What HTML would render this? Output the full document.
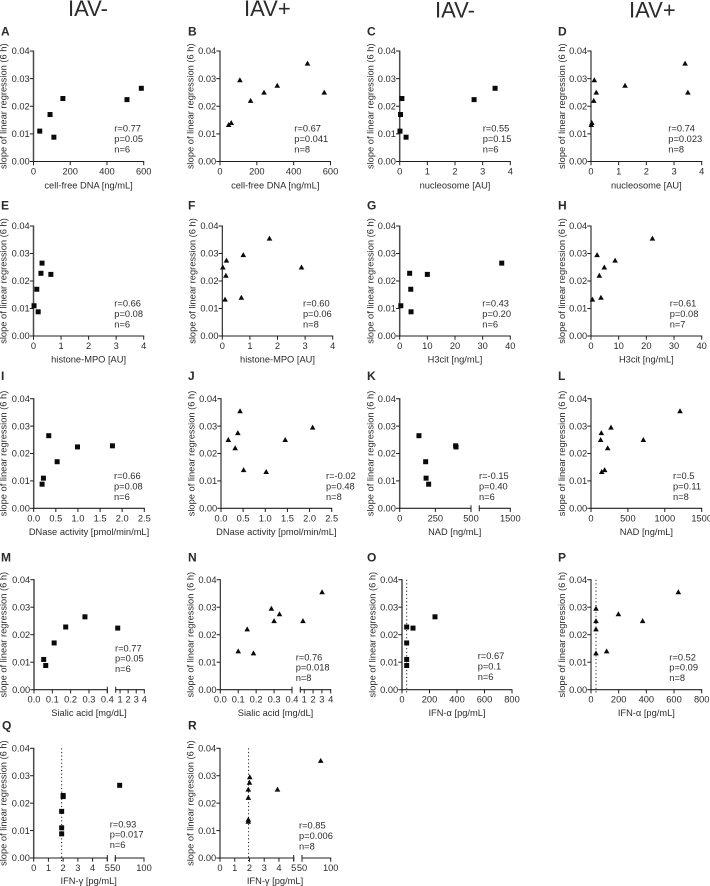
<!DOCTYPE html>
<html lang="en">
<head>
<meta charset="utf-8">
<title>Correlation panels</title>
<style>
html,body{margin:0;padding:0;background:#fff;}
#figure{display:block;position:absolute;left:0;top:0;}
text{font-family:"Liberation Sans",sans-serif;fill:#2b2b2b;}
</style>
</head>
<body>
<svg id="figure" xmlns="http://www.w3.org/2000/svg" width="710" height="886" viewBox="0 0 710 886">
  <rect x="0" y="0" width="710" height="886" fill="#ffffff"/>
  <text x="68" y="16" font-size="22">IAV-</text>
  <text x="244" y="16" font-size="22">IAV+</text>
  <text x="435" y="17.5" font-size="22">IAV-</text>
  <text x="629" y="17.5" font-size="22">IAV+</text>
</svg>
<script>
// ---------- Data ----------
const yTickValues = [0, 0.01, 0.02, 0.03, 0.04];
const yTickLabels = ['0.00', '0.01', '0.02', '0.03', '0.04'];

const xA = [34, 90, 111, 160, 509, 587];
const yA = [0.011, 0.017, 0.0088, 0.0228, 0.0224, 0.0265];
const xB = [47, 61, 108, 166, 239, 311, 475, 566];
const yB = [0.0133, 0.014, 0.0295, 0.022, 0.025, 0.0275, 0.0355, 0.025];
const xC = [0.01, 0.03, 0.08, 0.23, 2.69, 3.45];
const yC = [0.011, 0.017, 0.0228, 0.0088, 0.0224, 0.0265];
const xD = [0.01, 0.03, 0.12, 0.1, 0.19, 1.23, 3.4, 3.5];
const yD = [0.0133, 0.014, 0.0295, 0.022, 0.025, 0.0275, 0.0355, 0.025];
const xE = [0.02, 0.12, 0.17, 0.27, 0.31, 0.63];
const yE = [0.011, 0.017, 0.0088, 0.0228, 0.0265, 0.0224];
const xF = [0.02, 0.1, 0.13, 0.15, 0.69, 0.76, 1.71, 2.87];
const yF = [0.025, 0.0133, 0.022, 0.0275, 0.014, 0.0295, 0.0355, 0.025];
const xG = [0.4, 3.6, 4, 4.1, 10, 36.9];
const yG = [0.011, 0.0228, 0.017, 0.0088, 0.0224, 0.0265];
const xH = [0.5, 2.2, 3, 3.6, 4.8, 8.7, 22.2];
const yH = [0.0133, 0.0295, 0.022, 0.014, 0.025, 0.0275, 0.0355];
const xI = [0.19, 0.22, 0.34, 0.53, 0.99, 1.78];
const yI = [0.0088, 0.011, 0.0265, 0.017, 0.0224, 0.0228];
const xJ = [0.165, 0.32, 0.38, 0.43, 0.51, 1.02, 1.45, 2.07];
const yJ = [0.025, 0.022, 0.0275, 0.0355, 0.014, 0.0133, 0.025, 0.0295];
const xK = [135, 182, 185, 203, 392, 395];
const yK = [0.0265, 0.017, 0.011, 0.0088, 0.0228, 0.0224];
const xL = [131, 140, 145, 185, 226, 271, 709, 1206];
const yL = [0.025, 0.0275, 0.0133, 0.014, 0.022, 0.0295, 0.025, 0.0355];
const xM = [0.053, 0.064, 0.11, 0.173, 0.278, 0.71];
const yM = [0.011, 0.0088, 0.017, 0.0228, 0.0265, 0.0224];
const xN = [0.1, 0.15, 0.185, 0.285, 0.3, 0.33, 0.85, 3.02];
const yN = [0.014, 0.022, 0.0133, 0.0295, 0.025, 0.0275, 0.025, 0.0355];
const xO = [34, 34, 34, 34, 80, 240];
const yO = [0.0088, 0.011, 0.017, 0.0228, 0.0224, 0.0265];
const xP = [36, 36, 36, 36, 113, 198, 373, 631];
const yP = [0.0133, 0.022, 0.025, 0.0295, 0.014, 0.0275, 0.025, 0.0355];
const xQ = [1.9, 1.9, 1.9, 2, 2, 57.6];
const yQ = [0.0088, 0.011, 0.017, 0.0224, 0.0228, 0.0265];
const xR = [1.92, 1.92, 1.92, 1.92, 2, 2.02, 3.9, 82.6];
const yR = [0.0133, 0.014, 0.022, 0.025, 0.0275, 0.0295, 0.025, 0.0355];

const xTicks0to600 = [0, 200, 400, 600];
const xTicks0to4 = [0, 1, 2, 3, 4];
const xTicks0to40 = [0, 10, 20, 30, 40];
const xTicksDNase = [0, 0.5, 1, 1.5, 2, 2.5];
const xTickLabelsDNase = ['0.0', '0.5', '1.0', '1.5', '2.0', '2.5'];
const xTicksNADBroken = [0, 250, 500, 1500];
const xTicksNAD = [0, 500, 1000, 1500];
const xTicksSialic = [0, 0.1, 0.2, 0.3, 0.4, 1, 2, 3, 4];
const xTickLabelsSialic = ['0.0', '0.1', '0.2', '0.3', '0.4', '1', '2', '3', '4'];
const xTicksIFNa = [0, 200, 400, 600, 800];
const xTicksIFNg = [0, 1, 2, 3, 4, 5, 50, 100];

const statsA = ['r=0.77', 'p=0.05', 'n=6'];
const statsB = ['r=0.67', 'p=0.041', 'n=8'];
const statsC = ['r=0.55', 'p=0.15', 'n=6'];
const statsD = ['r=0.74', 'p=0.023', 'n=8'];
const statsE = ['r=0.66', 'p=0.08', 'n=6'];
const statsF = ['r=0.60', 'p=0.06', 'n=8'];
const statsG = ['r=0.43', 'p=0.20', 'n=6'];
const statsH = ['r=0.61', 'p=0.08', 'n=7'];
const statsI = ['r=0.66', 'p=0.08', 'n=6'];
const statsJ = ['r=-0.02', 'p=0.48', 'n=8'];
const statsK = ['r=-0.15', 'p=0.40', 'n=6'];
const statsL = ['r=0.5', 'p=0.11', 'n=8'];
const statsM = ['r=0.77', 'p=0.05', 'n=6'];
const statsN = ['r=0.76', 'p=0.018', 'n=8'];
const statsO = ['r=0.67', 'p=0.1', 'n=6'];
const statsP = ['r=0.52', 'p=0.09', 'n=8'];
const statsQ = ['r=0.93', 'p=0.017', 'n=6'];
const statsR = ['r=0.85', 'p=0.006', 'n=8'];

const cutoffO = 34;
const cutoffP = 36;
const cutoffQ = 1.9;
const cutoffR = 1.94;

// ---------- Layout (geometry of each panel) ----------
const rowFrames = [
  {top: 51, bottom: 161.5, letterY: 35.5, titleY: 188.5, statY: 131.7},
  {top: 226, bottom: 336, letterY: 209.5, titleY: 362.5, statY: 306.7},
  {top: 398.7, bottom: 508.3, letterY: 380, titleY: 535, statY: 479},
  {top: 579.7, bottom: 689.7, letterY: 561.5, titleY: 716, statY: 651.3},
  {top: 748.3, bottom: 858, letterY: 729.3, titleY: 884, statY: 827.3}
];

function panel(id, row, marker, letterX, ylabelX, statX, segs, xs, ys, ticks, tickLabels, title, stats, extra) {
  return Object.assign({id, row, marker, letterX, ylabelX, statX, segs, xs, ys, ticks, tickLabels, title, stats}, extra || {});
}

const panels = [
  panel('A', 0, 's', 1, 6.5, 114.3, [{d: [0, 600], r: [33.5, 143.7]}], xA, yA, xTicks0to600, null, 'cell-free DNA [ng/mL]', statsA),
  panel('B', 0, 't', 188, 193.7, 294.3, [{d: [0, 600], r: [220, 330.5]}], xB, yB, xTicks0to600, null, 'cell-free DNA [ng/mL]', statsB),
  panel('C', 0, 's', 367, 373.3, 482.7, [{d: [0, 4], r: [399.7, 510.3]}], xC, yC, xTicks0to4, null, 'nucleosome [AU]', statsC),
  panel('D', 0, 't', 558, 565, 668.3, [{d: [0, 4], r: [591, 701.7]}], xD, yD, xTicks0to4, null, 'nucleosome [AU]', statsD),
  panel('E', 1, 's', 1, 6.5, 114.3, [{d: [0, 4], r: [33.5, 143.7]}], xE, yE, xTicks0to4, null, 'histone-MPO [AU]', statsE),
  panel('F', 1, 't', 188, 195.7, 303, [{d: [0, 4], r: [222.3, 332.7]}], xF, yF, xTicks0to4, null, 'histone-MPO [AU]', statsF),
  panel('G', 1, 's', 367, 373.3, 482.3, [{d: [0, 40], r: [399.7, 510.3]}], xG, yG, xTicks0to40, null, 'H3cit [ng/mL]', statsG),
  panel('H', 1, 't', 558, 565, 669.7, [{d: [0, 40], r: [591, 701.7]}], xH, yH, xTicks0to40, null, 'H3cit [ng/mL]', statsH),
  panel('I', 2, 's', 1, 6.5, 114, [{d: [0, 2.5], r: [33.7, 144.3]}], xI, yI, xTicksDNase, xTickLabelsDNase, 'DNase activity [pmol/min/mL]', statsI),
  panel('J', 2, 't', 188, 194.3, 326, [{d: [0, 2.5], r: [221, 331.7]}], xJ, yJ, xTicksDNase, xTickLabelsDNase, 'DNase activity [pmol/min/mL]', statsJ),
  panel('K', 2, 's', 367, 373.3, 479, [{d: [0, 500], r: [399.7, 471]}, {d: [530, 1500], r: [479.3, 510.3]}], xK, yK, xTicksNADBroken, null, 'NAD [ng/mL]', statsK, {titleX: 454.7}),
  panel('L', 2, 't', 558, 565, 673, [{d: [0, 1500], r: [591, 701.7]}], xL, yL, xTicksNAD, null, 'NAD [ng/mL]', statsL),
  panel('M', 3, 's', 1, 6.5, 115, [{d: [0, 0.4], r: [34, 107.3]}, {d: [0.46, 4], r: [115.7, 144.3]}], xM, yM, xTicksSialic, xTickLabelsSialic, 'Sialic acid [mg/dL]', statsM, {titleX: 89}),
  panel('N', 3, 't', 188, 193.7, 295.7, [{d: [0, 0.4], r: [220.3, 292]}, {d: [0.55, 4], r: [300.3, 330.7]}], xN, yN, xTicksSialic, xTickLabelsSialic, 'Sialic acid [mg/dL]', statsN, {titleX: 275.5, statY: 660.3}),
  panel('O', 3, 's', 367, 375.3, 477.7, [{d: [0, 800], r: [402, 512]}], xO, yO, xTicksIFNa, null, 'IFN-\u03B1 [pg/mL]', statsO, {statY: 659, cutoff: cutoffO}),
  panel('P', 3, 't', 558, 565, 669.3, [{d: [0, 800], r: [591, 701.7]}], xP, yP, xTicksIFNa, null, 'IFN-\u03B1 [pg/mL]', statsP, {statY: 660.3, cutoff: cutoffP}),
  panel('Q', 4, 's', 2, 6.5, 109.7, [{d: [0, 5], r: [33.7, 107.3]}, {d: [50, 100], r: [115.3, 144]}], xQ, yQ, xTicksIFNg, null, 'IFN-\u03B3 [pg/mL]', statsQ, {titleX: 88.7, cutoff: cutoffQ}),
  panel('R', 4, 't', 188, 193.7, 299, [{d: [0, 5], r: [220, 293.7]}, {d: [50, 100], r: [302, 330.7]}], xR, yR, xTicksIFNg, null, 'IFN-\u03B3 [pg/mL]', statsR, {titleX: 275, statY: 828.7, cutoff: cutoffR})
];

// ---------- Drawing ----------
const svg = document.getElementById('figure');
const NS = 'http://www.w3.org/2000/svg';
const ink = '#1f1f1f';
const labelSize = 9.3;

function make(tag, attrs, parent, text) {
  const el = document.createElementNS(NS, tag);
  for (const k in attrs) el.setAttribute(k, attrs[k]);
  if (text !== undefined) el.textContent = text;
  parent.appendChild(el);
  return el;
}

function xScale(p, v) {
  // Map a value through the (possibly broken) x axis.
  const segs = p.segs;
  for (let i = 0; i < segs.length; i++) {
    const s = segs[i];
    if (v <= s.d[1] || i === segs.length - 1) {
      const t = (v - s.d[0]) / (s.d[1] - s.d[0]);
      return s.r[0] + t * (s.r[1] - s.r[0]);
    }
  }
}

function yScale(frame, v) {
  return frame.bottom - (v / 0.04) * (frame.bottom - frame.top);
}

function drawPanel(p) {
  const f = rowFrames[p.row];
  const key = p.id.toLowerCase();
  const x0 = p.segs[0].r[0];
  const xEnd = p.segs[p.segs.length - 1].r[1];
  const centerX = p.titleX !== undefined ? p.titleX : (x0 + xEnd) / 2;
  const statY = p.statY !== undefined ? p.statY : f.statY;
  const yWidth = p.marker === 's' ? 1.5 : 1.1;
  const yColor = p.marker === 's' ? '#4a4a4a' : ink;

  const g = make('g', {}, svg);
  
  

  const letter = make('text', {x: p.letterX, y: f.letterY, 'font-size': 12, 'font-weight': 'bold', fill: '#111'}, g, p.id);
  
  

  const yTitle = make('text', {
    x: 0, y: 0, 'font-size': labelSize, 'text-anchor': 'middle',
    transform: 'translate(' + p.ylabelX + ' ' + (f.top + f.bottom) / 2 + ') rotate(-90)'
  }, g, 'slope of linear regression (6 h)');
  
  

  const xTitle = make('text', {x: centerX, y: f.titleY, 'font-size': labelSize, 'text-anchor': 'middle'}, g, p.title);
  
  

  const yAxis = make('line', {x1: x0, x2: x0, y1: f.top - 0.5, y2: f.bottom + 0.5, stroke: yColor, 'stroke-width': yWidth}, g);
  
  

  yTickValues.forEach(function (v, i) {
    const ty = yScale(f, v);
    const tick = make('line', {x1: x0 - 3.7, x2: x0, y1: ty, y2: ty, stroke: ink, 'stroke-width': 1}, g);
    
    
    const lab = make('text', {x: x0 - 3.8, y: ty + 3.2, 'font-size': labelSize, 'text-anchor': 'end'}, g, yTickLabels[i]);
    
    
  });

  p.segs.forEach(function (s, i) {
    const axis = make('line', {x1: s.r[0] - 0.5, x2: s.r[1] + 0.5, y1: f.bottom, y2: f.bottom, stroke: ink, 'stroke-width': 1.1}, g);
    
    
    if (p.segs.length > 1) {
      const capX = i === 0 ? s.r[1] : s.r[0];
      const cap = make('line', {x1: capX, x2: capX, y1: f.bottom - 3, y2: f.bottom + 3, stroke: ink, 'stroke-width': 1}, g);
      
      
    }
  });

  p.ticks.forEach(function (v, i) {
    const tx = xScale(p, v);
    const tick = make('line', {x1: tx, x2: tx, y1: f.bottom, y2: f.bottom + 3.7, stroke: ink, 'stroke-width': 1}, g);
    
    
    const text = p.tickLabels ? p.tickLabels[i] : String(v);
    const lab = make('text', {x: tx, y: f.bottom + 13, 'font-size': labelSize, 'text-anchor': 'middle'}, g, text);
    
    
  });

  if (p.cutoff !== undefined) {
    const cx = xScale(p, p.cutoff);
    const dotted = make('line', {x1: cx, x2: cx, y1: f.top, y2: f.bottom + 3, stroke: '#222', 'stroke-width': 1, 'stroke-dasharray': '1.2 2.4'}, g);
    
    
  }

  p.xs.forEach(function (xv, i) {
    const px = xScale(p, xv);
    const py = yScale(f, p.ys[i]);
    let mark;
    if (p.marker === 's') {
      mark = make('rect', {x: px - 2.5, y: py - 2.5, width: 5, height: 5, fill: '#0a0a0a'}, g);
    } else {
      mark = make('polygon', {points: (px - 2.8) + ',' + (py + 2.2) + ' ' + (px + 2.8) + ',' + (py + 2.2) + ' ' + px + ',' + (py - 2.8), fill: '#0a0a0a'}, g);
    }
    
    
  });

  p.stats.forEach(function (line, i) {
    const st = make('text', {x: p.statX, y: statY + i * 10.4, 'font-size': labelSize}, g, line);
    
    
  });
}

panels.forEach(drawPanel);
</script>
</body>
</html>
